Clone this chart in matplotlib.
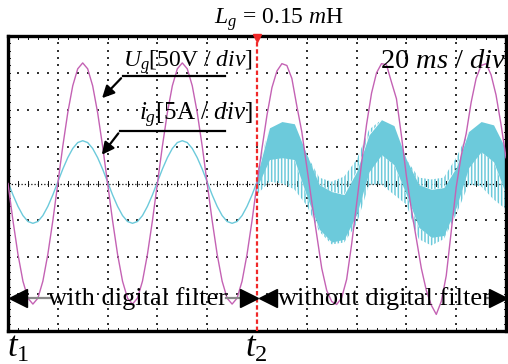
import matplotlib
matplotlib.use("agg")
import matplotlib.pyplot as plt
import numpy as np

plt.rcParams["font.family"] = ["Liberation Serif", "DejaVu Serif"]
plt.rcParams["mathtext.fontset"] = "custom"
plt.rcParams["mathtext.rm"] = "Liberation Serif"
plt.rcParams["mathtext.it"] = "Liberation Serif:italic"
plt.rcParams["hatch.linewidth"] = 1.1

# time axis in divisions (20 ms / div), values in divisions
t_fine = [round(0.1 * k, 1) for k in range(101)]

# grid voltage Ug [50 V/div]
ug = [0, -1.01, -1.92, -2.65, -3.11, -3.27, -3.11, -2.65, -1.92, -1.01,
      0, 1.01, 1.92, 2.65, 3.11, 3.27, 3.11, 2.65, 1.92, 1.01,
      0, -1.01, -1.92, -2.65, -3.11, -3.27, -3.11, -2.65, -1.92, -1.01,
      0, 1.01, 1.92, 2.65, 3.11, 3.27, 3.11, 2.65, 1.92, 1.01,
      0, -1.01, -1.92, -2.65, -3.11, -3.27, -3.11, -2.65, -1.92, -1.01,
      0, 0.95, 1.85, 2.6, 3.05, 3.25, 3.2, 2.85, 2.1, 1.4,
      0.45, -0.5, -1.4, -2.3, -2.9, -3.2, -3.28, -3.1, -2.6, -1.65,
      -0.55, 0.55, 1.6, 2.45, 3.0, 3.25, 3.22, 2.75, 2.3, 1.3,
      0.2, -0.7, -1.5, -2.3, -2.9, -3.3, -3.55, -3.2, -2.5, -1.3,
      -0.1, 0.75, 1.35, 2.2, 2.85, 3.2, 3.25, 2.95, 2.4, 1.6, 0.7]

# grid current ig [5 A/div] with digital filter (t = 0 .. 5)
t_left = t_fine[:51]
ig_left = [0.04, -0.31, -0.62, -0.87, -1.03, -1.08, -1.03, -0.87, -0.62, -0.31,
           0.04, 0.39, 0.70, 0.95, 1.11, 1.16, 1.11, 0.95, 0.70, 0.39,
           0.04, -0.31, -0.62, -0.87, -1.03, -1.08, -1.03, -0.87, -0.62, -0.31,
           0.04, 0.39, 0.70, 0.95, 1.11, 1.16, 1.11, 0.95, 0.70, 0.39,
           0.04, -0.31, -0.62, -0.87, -1.03, -1.08, -1.03, -0.87, -0.62, -0.31,
           0.04]

# ig without digital filter (t = 5 .. 10): envelopes of the ripple band
t_right = [5.0, 5.25, 5.5, 5.75, 6.0, 6.25, 6.5, 6.75, 7.0, 7.25, 7.5,
           7.75, 8.0, 8.25, 8.5, 8.75, 9.0, 9.25, 9.5, 9.75, 10.0]
ig_stripe_top = [0.3, 1.51, 1.68, 1.62, 0.78, 0.16, 0.05, 0.19, 0.65, 1.46, 1.73,
                 1.57, 0.65, 0.16, 0.11, 0.16, 0.70, 1.41, 1.68, 1.59, 0.92]
ig_solid_top = [0.2, 1.51, 1.68, 1.62, 0.78, -0.03, -0.22, -0.3, 0.32, 1.32, 1.73,
                1.57, 0.65, -0.03, -0.16, -0.11, 0.43, 1.41, 1.68, 1.59, 0.92]
ig_solid_bot = [-0.1, 0.65, 0.70, 0.65, -0.35, -1.24, -1.59, -1.51, -0.84, 0.32, 0.78,
                0.51, -0.3, -1.19, -1.46, -1.41, -0.65, 0.43, 0.86, 0.59, -0.3]
ig_stripe_bot = [-0.3, 0.05, 0.0, -0.16, -0.6, -1.3, -1.65, -1.6, -1.1, -0.03, -0.03,
                 -0.3, -0.57, -1.51, -1.68, -1.51, -0.84, -0.03, -0.08, -0.43, -0.7]

purple = "#C462B4"
cyan = "#6CCADB"

fig = plt.figure(figsize=(5.08, 3.64), dpi=100)
ax = fig.add_axes([8 / 508, 33 / 364, 498 / 508, 295 / 364])
ax.set_xlim(0, 10)
ax.set_ylim(-4, 4)
ax.set_xticks([])
ax.set_yticks([])
for s in ax.spines.values():
    s.set_linewidth(2.4)

# scope graticule
dots_y = np.arange(-4, 4.01, 0.2)
dots_x = np.arange(0, 10.01, 0.2)
for gx in range(1, 10):
    if gx != 5:
        ax.scatter(np.full(len(dots_y), gx), dots_y, s=0.55, marker="s", color="#333", lw=0, zorder=1)
for gy in range(-3, 4):
    if gy != 0:
        ax.scatter(dots_x, np.full(len(dots_x), gy), s=0.55, marker="s", color="#333", lw=0, zorder=1)
ax.axhline(0, color="#111", lw=0.9, ls=(0, (1, 1.6)), zorder=1)
for tx in dots_x:
    ax.plot([tx, tx], [-0.07, 0.07], color="#111", lw=0.7, zorder=1)
    ax.plot([tx, tx], [3.92, 4.0], color="#111", lw=0.7, zorder=1)
    ax.plot([tx, tx], [-4.0, -3.92], color="#111", lw=0.7, zorder=1)
for ty in dots_y:
    ax.plot([0, 0.05], [ty, ty], color="#111", lw=0.7, zorder=1)
    ax.plot([9.95, 10], [ty, ty], color="#111", lw=0.7, zorder=1)

# traces
ax.plot(t_left, ig_left, color=cyan, lw=1.0, zorder=2)
ax.fill_between(t_right, ig_solid_bot, ig_solid_top, color=cyan, lw=0, zorder=2)
ax.fill_between(t_right, ig_solid_top, ig_stripe_top, facecolor="none", edgecolor=cyan,
                hatch="|||||", lw=0, zorder=2)
ax.fill_between(t_right, ig_stripe_bot, ig_solid_bot, facecolor="none", edgecolor=cyan,
                hatch="|||||", lw=0, zorder=2)
ax.plot(t_fine, ug, color=purple, lw=1.0, zorder=3)

# switching instant t2
ax.axvline(5, color="#F02828", lw=1.6, ls=(0, (2, 1.2)), zorder=4)
ax.plot([5], [3.95], marker="v", ms=6, color="#F02828", clip_on=False, zorder=5)

# channel labels with pointer arrows
ax.text(4.92, 3.18, "$U_g$[50V / $div$]", ha="right", va="baseline", fontsize=17, zorder=6)
ax.text(4.92, 1.72, "$i_g$[5A / $div$]", ha="right", va="baseline", fontsize=18, zorder=6)
ax.plot([4.36, 2.31], [2.91, 2.91], color="k", lw=1.6, zorder=6)
ax.annotate("", xy=(1.85, 2.26), xytext=(2.31, 2.91),
            arrowprops=dict(arrowstyle="-|>", color="k", lw=1.6, mutation_scale=18), zorder=6)
ax.plot([4.36, 2.25], [1.42, 1.42], color="k", lw=1.6, zorder=6)
ax.annotate("", xy=(1.85, 0.72), xytext=(2.25, 1.42),
            arrowprops=dict(arrowstyle="-|>", color="k", lw=1.6, mutation_scale=18), zorder=6)

ax.text(10.0, 3.13, "20 $ms$ / $div$", ha="right", va="baseline", fontsize=20.5, zorder=6)

# region markers
yb = -3.1
ax.plot([0.34, 0.84], [yb, yb], color="#888", lw=1.6, zorder=6)
ax.plot([4.38, 4.72], [yb, yb], color="#888", lw=1.6, zorder=6)
ax.plot([9.6, 9.72], [yb, yb], color="#888", lw=1.6, zorder=6)
ax.plot([0.21], [yb], marker="<", ms=13, color="k", zorder=7)
ax.plot([4.83], [yb], marker=">", ms=13, color="k", zorder=7)
ax.plot([5.23], [yb], marker="<", ms=13, color="k", zorder=7)
ax.plot([9.83], [yb], marker=">", ms=13, color="k", zorder=7)
ax.text(2.61, -3.29, "with digital filter", ha="center", va="baseline", fontsize=19, zorder=6)
ax.text(7.56, -3.29, "without digital filter", ha="center", va="baseline", fontsize=19, zorder=6)

# titles and time marks
fig.text(279 / 508, 1 - 24 / 364, "$L_g$ = 0.15 $m$H", ha="center", va="baseline", fontsize=17)
fig.text(7 / 508, 1 - 357 / 364, "$t_1$", ha="left", va="baseline", fontsize=25)
fig.text(245 / 508, 1 - 357 / 364, "$t_2$", ha="left", va="baseline", fontsize=25)

fig.savefig("out.png", dpi=100)
